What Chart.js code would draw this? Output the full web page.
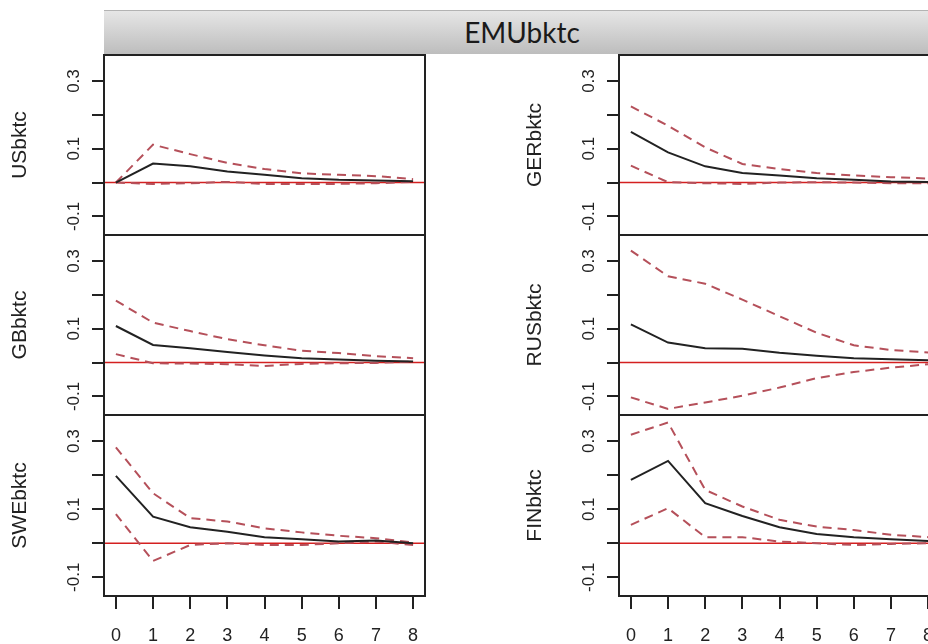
<!DOCTYPE html>
<html>
<head>
<meta charset="utf-8">
<title>EMUbktc impulse responses</title>
<script src="https://cdn.jsdelivr.net/npm/chart.js@4.4.0/dist/chart.umd.min.js"></script>
<style>
    body { margin: 0; background: #fff; overflow: hidden; }
    #wrap { position: relative; width: 928px; height: 644px; overflow: hidden; }
    #strip {
        position: absolute; left: 104px; top: 10px; width: 836px; height: 43px;
        background: linear-gradient(#e6e6e6, #bdbdbd);
        border-top: 1px solid #b3b3b3;
        font-family: Lato, "Open Sans", sans-serif; font-size: 28px; color: #1a1a1a;
        text-align: center; line-height: 43px;
    }
    canvas { position: absolute; }
</style>
</head>
<body>
<div id="wrap">
    <div id="strip">EMUbktc</div>
</div>
<script>
    // Forecast horizon and axis ticks
    const horizon = [0, 1, 2, 3, 4, 5, 6, 7, 8];
    const yTickValues = [-0.1, 0, 0.1, 0.2, 0.3];
    const yTickLabels = [-0.1, 0.1, 0.3];

    // Response of each market to a shock in EMUbktc (irf + bootstrap bands)
    const usIrf = [0, 0.056, 0.048, 0.033, 0.023, 0.013, 0.008, 0.006, 0.004];
    const usUpper = [0, 0.112, 0.084, 0.058, 0.040, 0.027, 0.023, 0.019, 0.010];
    const usLower = [0, -0.004, -0.002, 0.002, -0.004, -0.004, -0.004, -0.002, 0.002];

    const gerIrf = [0.150, 0.089, 0.048, 0.028, 0.021, 0.013, 0.008, 0.003, 0.002];
    const gerUpper = [0.225, 0.168, 0.104, 0.055, 0.040, 0.028, 0.021, 0.016, 0.012];
    const gerLower = [0.050, 0.001, -0.002, -0.004, 0.000, 0.001, 0.000, -0.002, -0.002];

    const gbIrf = [0.108, 0.052, 0.042, 0.031, 0.021, 0.013, 0.009, 0.005, 0.003];
    const gbUpper = [0.183, 0.118, 0.093, 0.069, 0.051, 0.035, 0.028, 0.019, 0.013];
    const gbLower = [0.025, -0.002, -0.003, -0.005, -0.010, -0.004, -0.002, -0.001, 0.003];

    const rusIrf = [0.113, 0.059, 0.042, 0.041, 0.029, 0.020, 0.013, 0.010, 0.007];
    const rusUpper = [0.331, 0.255, 0.233, 0.186, 0.137, 0.088, 0.051, 0.037, 0.030];
    const rusLower = [-0.103, -0.137, -0.118, -0.098, -0.074, -0.046, -0.028, -0.015, -0.005];

    const sweIrf = [0.198, 0.078, 0.047, 0.034, 0.018, 0.012, 0.005, 0.008, 0.000];
    const sweUpper = [0.282, 0.147, 0.074, 0.064, 0.044, 0.032, 0.022, 0.015, 0.002];
    const sweLower = [0.086, -0.052, -0.005, 0.000, -0.005, -0.005, 0.000, 0.005, -0.005];

    const finIrf = [0.186, 0.242, 0.118, 0.080, 0.047, 0.027, 0.018, 0.012, 0.007];
    const finUpper = [0.319, 0.355, 0.157, 0.108, 0.069, 0.049, 0.039, 0.025, 0.018];
    const finLower = [0.054, 0.103, 0.018, 0.018, 0.005, 0.000, -0.005, -0.002, 0.000];

    const panels = [
        {name: "USbktc", irf: usIrf, upper: usUpper, lower: usLower, col: 0, row: 0},
        {name: "GERbktc", irf: gerIrf, upper: gerUpper, lower: gerLower, col: 1, row: 0},
        {name: "GBbktc", irf: gbIrf, upper: gbUpper, lower: gbLower, col: 0, row: 1},
        {name: "RUSbktc", irf: rusIrf, upper: rusUpper, lower: rusLower, col: 1, row: 1},
        {name: "SWEbktc", irf: sweIrf, upper: sweUpper, lower: sweLower, col: 0, row: 2},
        {name: "FINbktc", irf: finIrf, upper: finUpper, lower: finLower, col: 1, row: 2},
    ];

    // Panel placement on the page
    const colLeft = [0, 515];
    const boxTop = [55, 235, 415];
    const boxBottom = [235, 415, 596];
    const INK = "#222";
    const BAND = "#b5505a";

    // Red reference line at zero
    const zeroLine = {
        id: "zeroLine",
        beforeDatasetsDraw(chart) {
            const {ctx, chartArea, scales} = chart;
            const y = scales.y.getPixelForValue(0);
            ctx.save();
            ctx.strokeStyle = "#d42020";
            ctx.lineWidth = 1.5;
            ctx.beginPath();
            ctx.moveTo(chartArea.left, y);
            ctx.lineTo(chartArea.right, y);
            ctx.stroke();
            ctx.restore();
        },
    };

    // Frame around the plotting region
    const panelBox = {
        id: "panelBox",
        afterDraw(chart) {
            const {ctx, chartArea} = chart;
            ctx.save();
            ctx.strokeStyle = INK;
            ctx.lineWidth = 2;
            ctx.strokeRect(chartArea.left, chartArea.top,
                chartArea.right - chartArea.left, chartArea.bottom - chartArea.top);
            ctx.restore();
        },
    };

    function toPoints(values) {
        return horizon.map((h, i) => ({x: h, y: values[i]}));
    }

    const wrap = document.getElementById("wrap");

    panels.forEach((p) => {
        const last = p.row === 2;
        const top = boxTop[p.row] - 5;
        const height = last ? 644 - top : boxBottom[p.row] + 5 - top;

        const canvas = document.createElement("canvas");
        canvas.width = 430;
        canvas.height = height;
        canvas.style.left = colLeft[p.col] + "px";
        canvas.style.top = top + "px";
        wrap.appendChild(canvas);

        new Chart(canvas, {
            type: "line",
            data: {
                datasets: [
                    {data: toPoints(p.irf), borderColor: INK, borderWidth: 2},
                    {data: toPoints(p.upper), borderColor: BAND, borderWidth: 2, borderDash: [9, 6]},
                    {data: toPoints(p.lower), borderColor: BAND, borderWidth: 2, borderDash: [9, 6]},
                ],
            },
            options: {
                responsive: false,
                animation: false,
                devicePixelRatio: 1,
                layout: {padding: {top: 5, right: 5, bottom: last ? 0 : 5, left: 0}},
                elements: {point: {radius: 0}, line: {tension: 0}},
                plugins: {legend: {display: false}, tooltip: {enabled: false}},
                scales: {
                    x: {
                        type: "linear",
                        min: -0.32,
                        max: 8.32,
                        display: last,
                        afterBuildTicks: (s) => { s.ticks = horizon.map((v) => ({value: v})); },
                        afterFit: (s) => {
                            s.paddingLeft = 0;
                            s.paddingRight = 0;
                            if (last) s.height = 48;
                        },
                        grid: {drawOnChartArea: false, tickLength: 13, color: INK, lineWidth: 2},
                        border: {display: false},
                        ticks: {
                            autoSkip: false,
                            maxRotation: 0,
                            padding: 16,
                            color: INK,
                            font: {family: "Liberation Sans", size: 18},
                            callback: (v) => String(v),
                        },
                    },
                    y: {
                        type: "linear",
                        min: -0.155,
                        max: 0.377,
                        afterBuildTicks: (s) => { s.ticks = yTickValues.map((v) => ({value: v})); },
                        afterFit: (s) => {
                            s.width = 104;
                            s.paddingTop = 0;
                            s.paddingBottom = 0;
                        },
                        grid: {drawOnChartArea: false, tickLength: 12, color: INK, lineWidth: 2},
                        border: {display: false},
                        title: {
                            display: true,
                            text: p.name,
                            color: INK,
                            font: {family: "Liberation Sans", size: 21},
                            padding: {top: 8, bottom: 0},
                        },
                        ticks: {
                            autoSkip: false,
                            minRotation: 90,
                            maxRotation: 90,
                            crossAlign: "center",
                            padding: 3,
                            color: INK,
                            font: {family: "Liberation Sans", size: 17},
                            callback: (v) => (yTickLabels.includes(v) ? String(v) : ""),
                        },
                    },
                },
            },
            plugins: [zeroLine, panelBox],
        });
    });
</script>
</body>
</html>
